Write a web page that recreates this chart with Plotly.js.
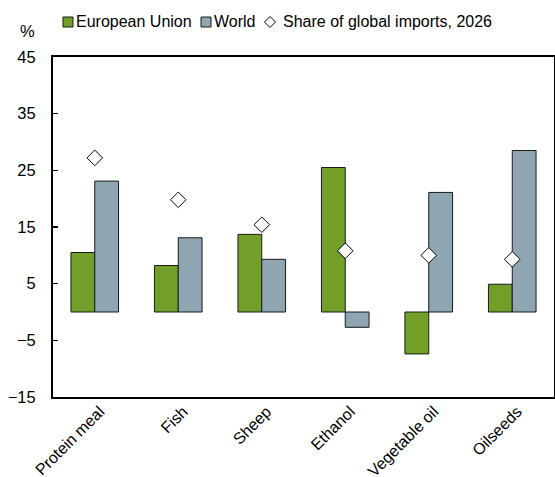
<!DOCTYPE html>
<html>
<head>
<meta charset="utf-8">
<script src="https://cdn.plot.ly/plotly-3.0.1.min.js"></script>
<style>
html,body{margin:0;padding:0;background:#fff;}
#chart{width:555px;height:477px;}
</style>
</head>
<body>
<div id="chart"></div>
<script>
const categories = ["Protein meal", "Fish", "Sheep", "Ethanol", "Vegetable oil", "Oilseeds"];
const euValues = [10.5, 8.2, 13.7, 25.5, -7.4, 4.9];
const worldValues = [23.1, 13.1, 9.3, -2.7, 21.1, 28.5];
const shareValues = [27.2, 19.8, 15.4, 10.8, 10.0, 9.3];
const yTickVals = [-15, -5, 5, 15, 25, 35, 45];
const boundaryTicks = [0.5, 1.5, 2.5, 3.5, 4.5];

const FONT = "Liberation Sans, Arial, sans-serif";
const GREEN = "#719F29", GRAY = "#8FA5B1";

const W = 555, H = 477, ML = 53, MR = 1, MT = 57, MB = 80;
const PW = W - ML - MR, PH = H - MT - MB;
const px = v => (v - ML) / PW;          // pixel x -> paper x
const py = v => (H - MB - v) / PH;      // pixel y -> paper y

const traces = [
  {
    type: "bar", name: "European Union", x: categories, y: euValues,
    marker: {color: GREEN, line: {color: "#1a1a1a", width: 1}}
  },
  {
    type: "bar", name: "World", x: categories, y: worldValues,
    marker: {color: GRAY, line: {color: "#1a1a1a", width: 1}}
  },
  {
    type: "scatter", mode: "markers", name: "Share of global imports, 2026",
    x: categories, y: shareValues,
    marker: {symbol: "diamond", size: 12, color: "#ffffff", line: {color: "#000000", width: 1}}
  }
];

// manual legend (to match the compact reference legend)
const legendItems = [
  {name: traces[0].name, sym: "square", color: GREEN, sx: 63, tx: 74},
  {name: traces[1].name, sym: "square", color: GRAY, sx: 201, tx: 212},
  {name: traces[2].name, sym: "diamond", color: "#fff", sx: 265, tx: 281}
];
const LY = 22;
const shapes = [];
const annotations = [];
legendItems.forEach(it => {
  if (it.sym === "square") {
    shapes.push({type: "rect", xref: "paper", yref: "paper",
      x0: px(it.sx), x1: px(it.sx + 10), y0: py(LY + 5), y1: py(LY - 5),
      fillcolor: it.color, line: {color: "#1a1a1a", width: 1}});
  } else {
    const cx = it.sx + 5;
    shapes.push({type: "path", xref: "paper", yref: "paper",
      path: `M ${px(cx - 5.5)} ${py(LY)} L ${px(cx)} ${py(LY - 5.5)} L ${px(cx + 5.5)} ${py(LY)} L ${px(cx)} ${py(LY + 5.5)} Z`,
      fillcolor: "#ffffff", line: {color: "#000", width: 1}});
  }
  annotations.push({text: it.name, xref: "paper", yref: "paper", x: px(it.tx), y: py(LY),
    xanchor: "left", yanchor: "middle", showarrow: false,
    font: {family: FONT, size: 16, color: "#000"}});
});
annotations.push({text: "%", xref: "paper", yref: "paper", x: px(27), y: py(31),
  xanchor: "center", yanchor: "middle", showarrow: false,
  font: {family: FONT, size: 16.5, color: "#000"}});

const layout = {
  width: W, height: H,
  margin: {l: ML, r: MR, t: MT, b: MB},
  paper_bgcolor: "#ffffff", plot_bgcolor: "#ffffff",
  font: {family: FONT, size: 16, color: "#000000"},
  barmode: "group",
  bargap: 0.43, bargroupgap: 0,
  showlegend: false,
  xaxis: {
    type: "category", range: [-0.5, 5.5],
    showline: true, linecolor: "#000", linewidth: 2, mirror: true,
    ticks: "", tickangle: -45, showgrid: false, zeroline: false,
    ticklabelstandoff: -3, ticklabelshift: 5,
    tickfont: {family: FONT, size: 16, color: "#000"}
  },
  xaxis2: {
    overlaying: "x", anchor: "free", position: 0.25, type: "linear",
    range: [-0.5, 5.5], showline: true, linecolor: "#000", linewidth: 1.5,
    tickvals: boundaryTicks, ticks: "inside", ticklen: 5, tickwidth: 1.5, tickcolor: "#000",
    showticklabels: false, showgrid: false, zeroline: false
  },
  yaxis: {
    range: [-15, 45], tickvals: yTickVals,
    showline: true, linecolor: "#000", linewidth: 2, mirror: true,
    ticks: "inside", ticklen: 5, tickwidth: 1.5, tickcolor: "#000",
    showgrid: false, zeroline: false, ticklabelstandoff: 12,
    tickfont: {family: FONT, size: 16.5, color: "#000"}
  },
  shapes: shapes,
  annotations: annotations
};

Plotly.newPlot("chart", traces, layout, {displayModeBar: false, staticPlot: true});
</script>
</body>
</html>
